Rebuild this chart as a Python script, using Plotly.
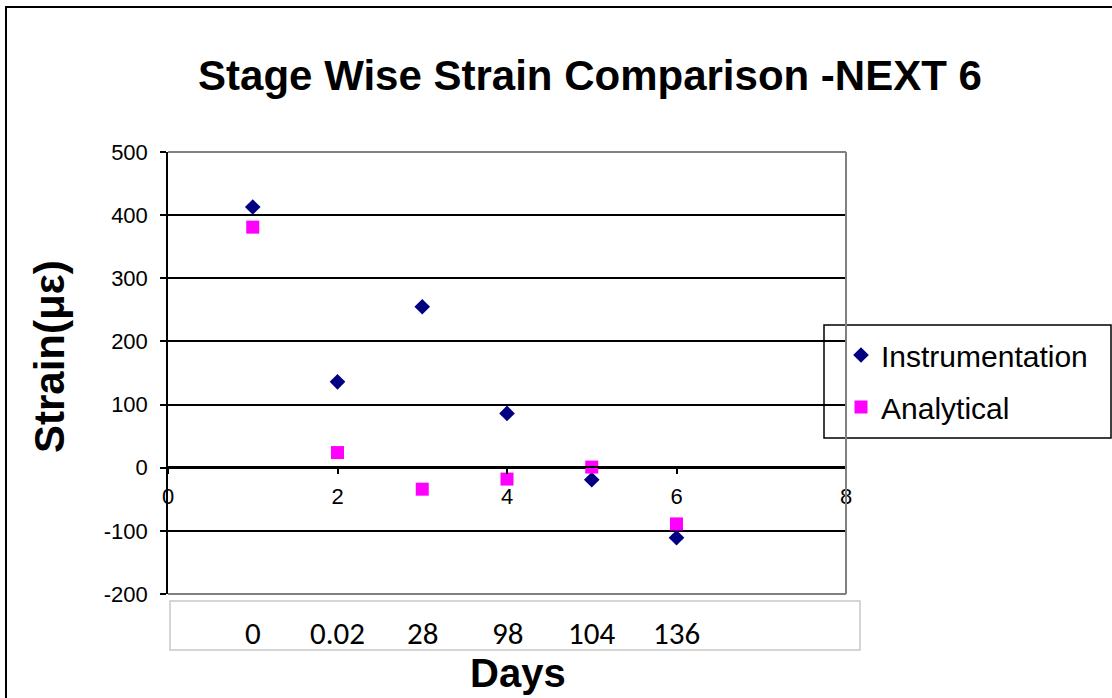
import plotly.graph_objects as go

# Stage positions along the x axis and the day each stage corresponds to
stages = [1, 2, 3, 4, 5, 6]
day_labels = ["0", "0.02", "28", "98", "104", "136"]

# Strain readings (micro-strain)
instrumentation = [413, 136, 255, 86, -19, -111]
analytical = [381, 24, -34, -18, 1, -89]

# Axis ticks (hyphen minus for negative values)
y_ticks = [-200, -100, 0, 100, 200, 300, 400, 500]
y_tick_text = [str(v) for v in y_ticks]
x_ticks = [0, 2, 4, 6, 8]

W, H = 1112, 698
L, R, T, B = 168, 266, 152, 104
pw, ph = W - L - R, H - T - B


def px(x):
    return (x - L) / pw


def py(y):
    return (H - B - y) / ph


fig = go.Figure()

fig.add_trace(go.Scatter(
    x=stages, y=instrumentation, mode="markers", name="Instrumentation",
    legendgroup="a",
    marker=dict(symbol="diamond", size=12, color="#000080"),
    cliponaxis=False,
))
fig.add_trace(go.Scatter(
    x=stages, y=analytical, mode="markers", name="Analytical",
    legendgroup="b",
    marker=dict(symbol="square", size=13, color="#FF00FF"),
    cliponaxis=False,
))

arial = "Liberation Sans, Arial, sans-serif"
calibri = "Carlito, Calibri, Lato, sans-serif"

shapes = [
    # outer chart frame
    dict(type="rect", xref="paper", yref="paper",
         x0=px(6), x1=px(1125), y0=py(710), y1=py(7),
         line=dict(color="black", width=2), layer="below"),
    # plot-area border (top, right, bottom)
    dict(type="line", xref="paper", yref="paper", x0=0, x1=1, y0=1, y1=1,
         line=dict(color="#808080", width=2), layer="above"),
    dict(type="line", xref="paper", yref="paper", x0=1, x1=1, y0=0, y1=1,
         line=dict(color="#808080", width=2), layer="above"),
    dict(type="line", xref="paper", yref="paper", x0=0, x1=1, y0=0, y1=0,
         line=dict(color="#808080", width=2), layer="above"),
    # box holding the day labels
    dict(type="rect", xref="paper", yref="paper",
         x0=px(170), x1=px(860), y0=py(650), y1=py(601),
         line=dict(color="#C8C8C8", width=1.5)),
    # legend frame
    dict(type="rect", xref="paper", yref="paper",
         x0=px(824), x1=px(1111), y0=py(438), y1=py(325),
         line=dict(color="black", width=1.5), fillcolor="white", layer="below"),
]

annotations = [
    dict(text="Strain(\u03bc\u03b5)", xref="paper", yref="paper",
         x=px(49), y=py(357), textangle=-90, showarrow=False,
         xanchor="center", yanchor="middle",
         font=dict(family=arial, size=42, color="black", weight="bold")),
    dict(text="Days", xref="paper", yref="paper",
         x=px(518), y=py(673), showarrow=False,
         xanchor="center", yanchor="middle",
         font=dict(family=arial, size=40, color="black", weight="bold")),
]
for s, lab in zip(stages, day_labels):
    annotations.append(dict(
        text=lab, x=s, xref="x", yref="paper", y=py(633), showarrow=False,
        xanchor="center", yanchor="middle",
        font=dict(family=calibri, size=31, color="black")))

fig.update_layout(
    width=W, height=H,
    margin=dict(l=L, r=R, t=T, b=B, pad=0),
    paper_bgcolor="white", plot_bgcolor="white",
    title=dict(text="<b>Stage Wise Strain Comparison -NEXT 6</b>",
               x=px(590), xref="paper", xanchor="center",
               y=1 - 75 / H, yref="container", yanchor="middle",
               font=dict(family=arial, size=42, color="black")),
    xaxis=dict(range=[0, 8], tickvals=x_ticks, showgrid=False,
               zeroline=False, showline=True, linecolor="black", linewidth=1.5,
               ticks="outside", ticklen=6, tickcolor="black", tickwidth=1.5,
               anchor="free", position=py(467), ticklabelstandoff=4,
               tickfont=dict(family=arial, size=22, color="black")),
    yaxis=dict(range=[-200, 500], tickvals=y_ticks, ticktext=y_tick_text,
               showgrid=True, gridcolor="black", gridwidth=1.5, zeroline=True,
               zerolinecolor="black", zerolinewidth=1.5,
               showline=True, linecolor="black", linewidth=1.5,
               ticks="outside", ticklen=6, tickcolor="black", tickwidth=1.5,
               ticklabelstandoff=8,
               tickfont=dict(family=arial, size=22, color="black")),
    legend=dict(x=px(841), y=py(329), xanchor="left", yanchor="top",
                bgcolor="rgba(0,0,0,0)", borderwidth=0, tracegroupgap=10,
                font=dict(family=arial, size=30, color="black")),
    shapes=shapes,
    annotations=annotations,
)

fig.write_html("out.html")
